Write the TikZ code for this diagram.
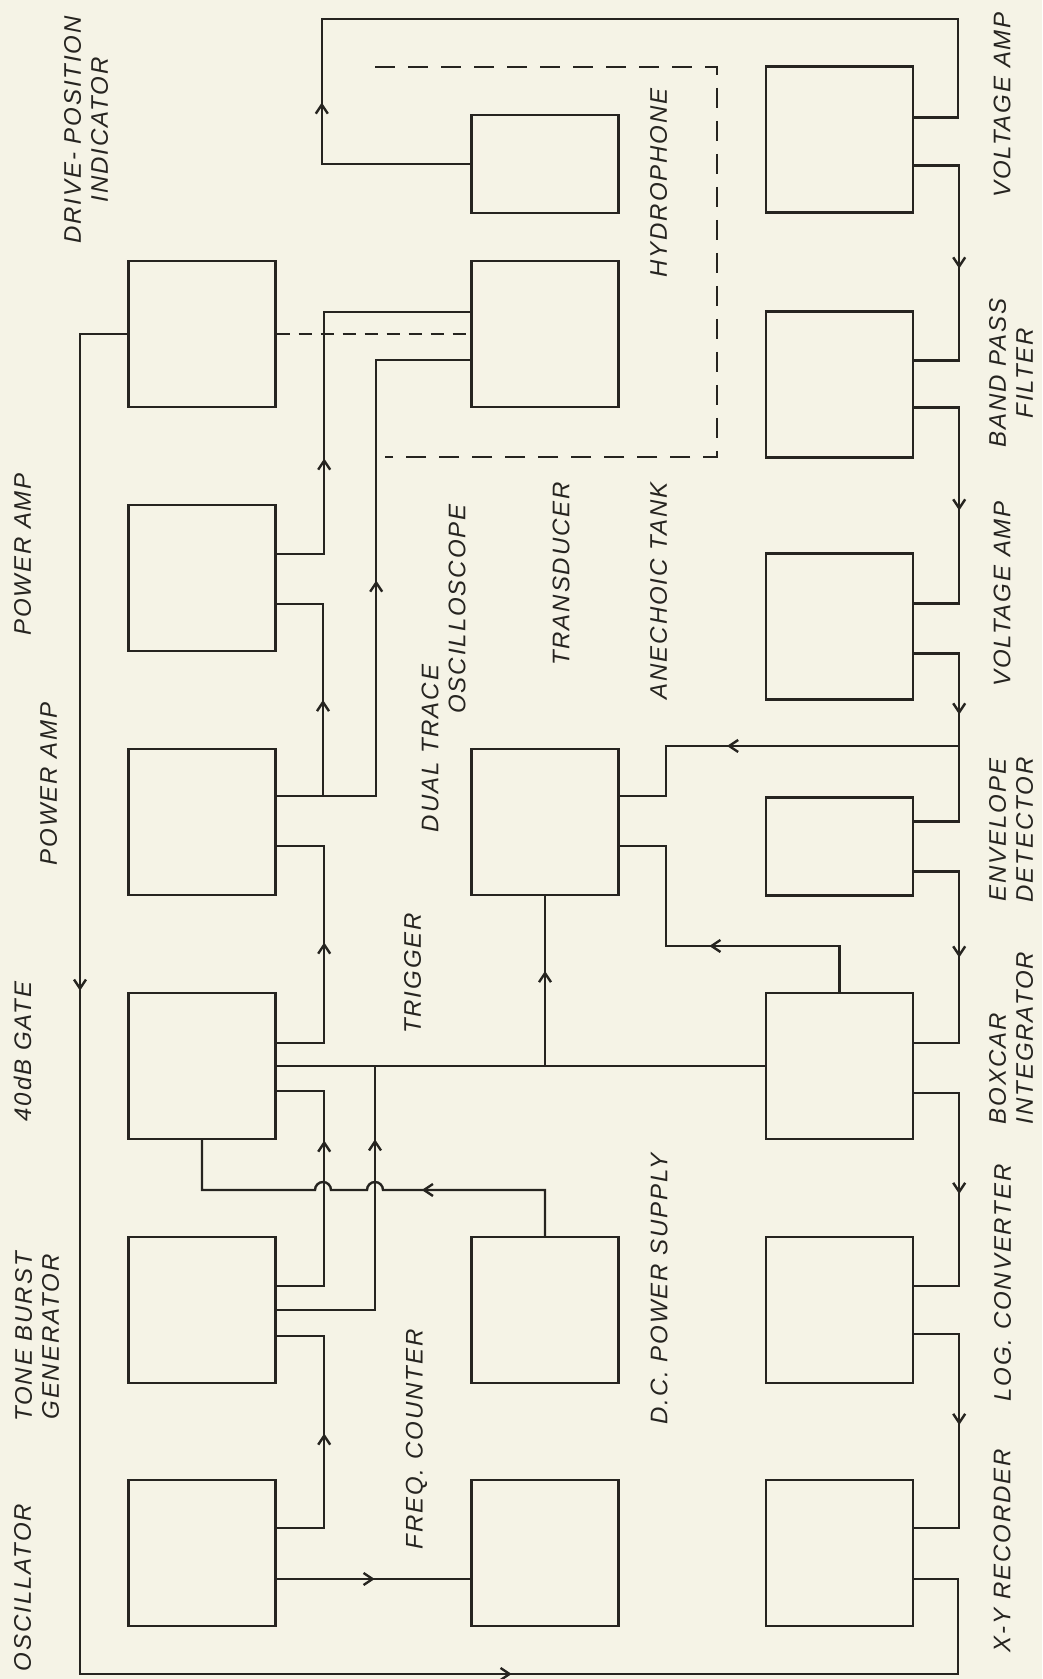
\documentclass[tikz,border=0pt]{standalone}
\usepackage{fontspec}
\setmainfont{Liberation Sans}[LetterSpace=8]
\usetikzlibrary{arrows.meta,decorations.markings}
\definecolor{Paper}{RGB}{245,243,230}
\definecolor{Ink}{RGB}{38,36,32}
\newcommand{\blockfont}{\fontsize{24}{27}\selectfont\itshape}

\begin{document}
\begin{tikzpicture}[x=1pt,y=1pt,color=Ink]
\tikzset{
  block/.style={draw, line width=2.4pt, minimum width=147pt, minimum height=146pt, inner sep=0pt},
  lowblock/.style={block, minimum height=98pt},
  wire/.style={draw, line width=2.4pt},
  flowat/.style={postaction={decorate, decoration={markings,
      mark=at position #1 with {\arrow{Straight Barb[length=9pt,width=12pt]}}}}},
  linkage/.style={draw, line width=2pt, dash pattern=on 13pt off 9pt},
  tankline/.style={draw, line width=2pt, dash pattern=on 20pt off 13pt},
  tag/.style={rotate=90, align=center, font=\blockfont, inner sep=0pt}
}
  \fill[Paper] (0,0) rectangle (1042,1679);
  \useasboundingbox (0,0) rectangle (1042,1679);

  \node[block] (dpi)    at (202,1345) {};
  \node[block] (pwrA)   at (202,1101) {};
  \node[block] (pwrB)   at (202,857)  {};
  \node[block] (gate)   at (202,613)  {};
  \node[block] (burst)  at (202,369)  {};
  \node[block] (osc)    at (202,126)  {};
  \node[lowblock] (hydro) at (545,1515) {};
  \node[block] (xducer) at (545,1345) {};
  \node[block] (scope)  at (545,857)  {};
  \node[block] (dcps)   at (545,369)  {};
  \node[block] (freq)   at (545,126)  {};
  \node[block] (vampB)  at (839.5,1539.5) {};
  \node[block] (bpf)    at (839.5,1294.5) {};
  \node[block] (vampA)  at (839.5,1052.5) {};
  \node[lowblock] (env) at (839.5,832.5) {};
  \node[block] (boxcar) at (839.5,613) {};
  \node[block] (logc)   at (839.5,369) {};
  \node[block] (xyrec)  at (839.5,126) {};

  \node[tag] (oscT)    at (22.5,91.5)   {OSCILLATOR};
  \node[tag] (burstT)  at (37,342)      {TONE BURST\\GENERATOR};
  \node[tag] (gateT)   at (22.5,627.5)  {40dB GATE};
  \node[tag] (pwrBT)   at (48.5,895)    {POWER AMP};
  \node[tag] (pwrAT)   at (22.5,1124.5) {POWER AMP};
  \node[tag] (dpiT)    at (86,1549)     {DRIVE- POSITION\\INDICATOR};
  \node[tag] (hydroT)  at (658.5,1496)  {HYDROPHONE};
  \node[tag] (xducerT) at (561,1105)    {TRANSDUCER};
  \node[tag] (tankT)   at (658.5,1088)  {ANECHOIC TANK};
  \node[tag] (scopeT)  at (430,930.5)   {DUAL TRACE};
  \node[tag] (scopeU)  at (457,1070)    {OSCILLOSCOPE};
  \node[tag] (trigT)   at (412.5,705.5) {TRIGGER};
  \node[tag] (freqT)   at (416.5,239.5) {FREQ. COUNTER};
  \node[tag] (dcpsT)   at (659,390)     {D.C. POWER SUPPLY};
  \node[tag] (vampBT)  at (1002,1574)   {VOLTAGE AMP};
  \node[tag] (bpfT)    at (1011,1306)   {BAND PASS\\FILTER};
  \node[tag] (vampAT)  at (1002,1085)   {VOLTAGE AMP};
  \node[tag] (envT)    at (1011,849)    {ENVELOPE\\DETECTOR};
  \node[tag, align=left] (boxcarT) at (1011,641) {BOXCAR\\INTEGRATOR};
  \node[tag] (logcT)   at (1002.5,396)  {LOG. CONVERTER};
  \node[tag] (xyrecT)  at (1002,128.5)  {X-Y RECORDER};

  \draw[wire, flowat=210pt] (hydro.west) -- ++(-148.5,0) |- (958,1660) |- ([yshift=22pt]vampB.east);
  \draw[wire, flowat=148pt] ([yshift=-26pt]vampB.east) -- ++(45,0) |- ([yshift=24pt]bpf.east);
  \draw[wire, flowat=148pt] ([yshift=-23pt]bpf.east) -- ++(45,0) |- ([yshift=23pt]vampA.east);
  \draw[wire, flowat=106pt] ([yshift=-27pt]vampA.east) -- ++(45,0) |- ([yshift=25pt]env.east);
  \coordinate (tap) at (958,933);
  \draw[wire, flowat=231pt] (tap) -- (666,933) |- ([yshift=26pt]scope.east);
  \draw[wire, flowat=131pt] ([yshift=-25pt]env.east) -- ++(45,0) |- ([yshift=23pt]boxcar.east);
  \draw[wire, flowat=176pt] (boxcar.north) |- (666,733) |- ([yshift=-24pt]scope.east);
  \draw[wire, flowat=146pt] ([yshift=-27pt]boxcar.east) -- ++(45,0) |- ([yshift=24pt]logc.east);
  \draw[wire, flowat=136pt] ([yshift=-24pt]logc.east) -- ++(45,0) |- ([yshift=25pt]xyrec.east);
  \draw[wire, flowat=704pt, flowat=1819pt] (dpi.west) -| (80,5) -| (958,100) -- ([yshift=-26pt]xyrec.east);

  \draw[linkage] (dpi.east) -- (xducer.west);
  \draw[tankline] (375,1612) -| (717,1222) -- (385,1222);
  \draw[wire, flowat=143pt] ([yshift=24pt]pwrA.east) -- ++(47.5,0) |- ([yshift=22pt]xducer.west);
  \draw[wire, flowat=315pt] ([yshift=26pt]pwrB.east) -- ++(99.5,0) |- ([yshift=-26pt]xducer.west);
  \coordinate (fork) at (323,883);
  \draw[wire, flowat=96pt] (fork) |- ([yshift=-26pt]pwrA.east);
  \draw[wire, flowat=148pt] ([yshift=23pt]gate.east) -- ++(47.5,0) |- ([yshift=-24pt]pwrB.east);
  \draw[wire] (gate.east) -- (boxcar.west);
  \draw[wire, flowat=95pt] (scope.south |- gate.east) -- (scope.south);
  \draw[wire, flowat=269pt] (burst.east) -| (375,613);
  \draw[wire, flowat=193pt] ([yshift=24pt]burst.east) -- ++(47.5,0) |- ([yshift=-25pt]gate.east);
  \draw[wire, flowat=142pt] ([yshift=25pt]osc.east) -- ++(47.5,0) |- ([yshift=-26pt]burst.east);
  \draw[wire, flowat=98pt] ([yshift=-26pt]osc.east) -- ([yshift=-26pt]freq.west);
  \draw[wire, flowat=169pt] (dcps.north) |- (383,489) arc[start angle=0, end angle=180, radius=8]
    -- (331,489) arc[start angle=0, end angle=180, radius=8] -| (gate.south);
\end{tikzpicture}
\end{document}
